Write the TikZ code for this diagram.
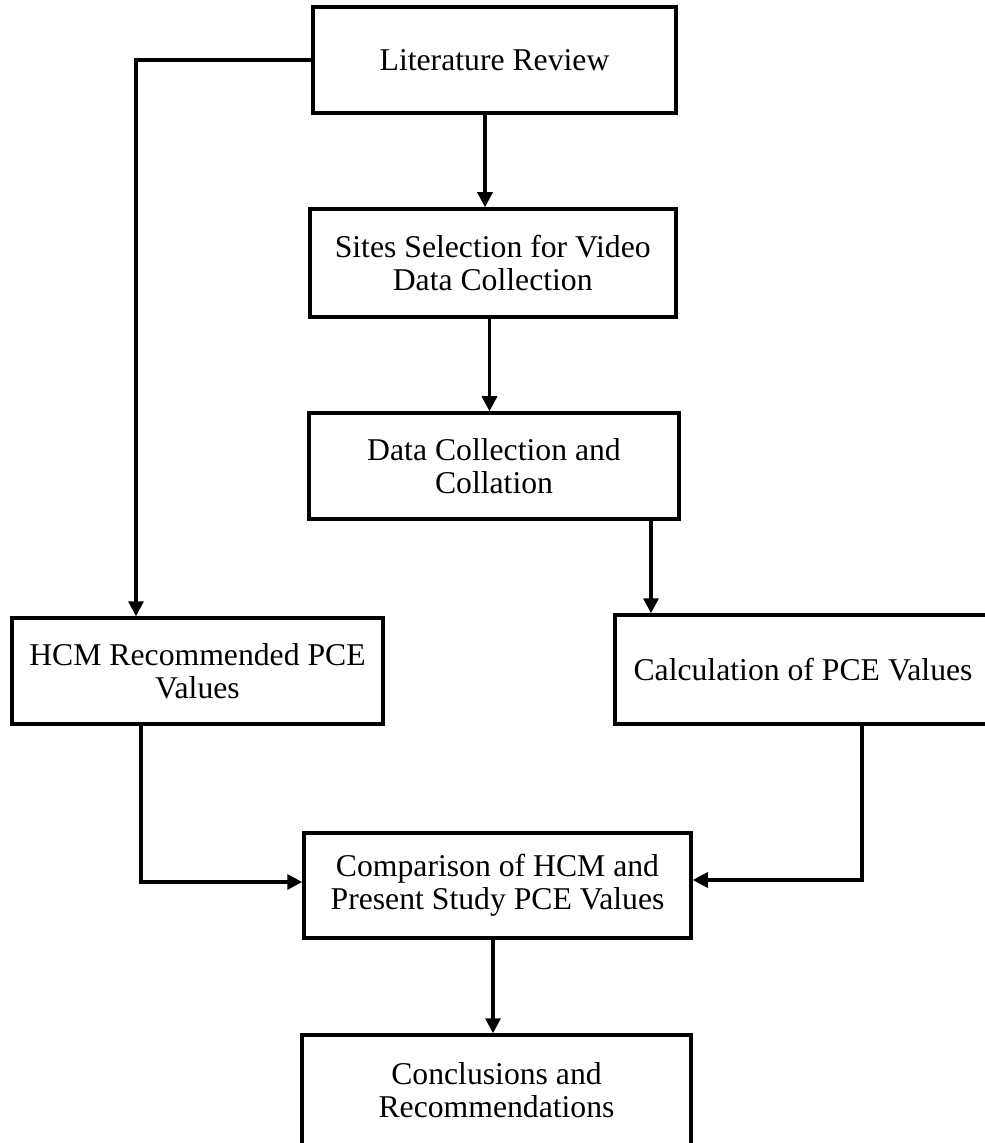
\documentclass[tikz,border=0pt]{standalone}
\usepackage{fontspec}
\setmainfont{Liberation Serif}
\usetikzlibrary{arrows.meta,calc}
\begin{document}
\begin{tikzpicture}[x=0.5pt,y=-0.5pt,
  box/.style={draw,line width=1.75pt,inner sep=0pt,align=center,
    font=\fontsize{15.85pt}{16.5pt}\selectfont},
  conn/.style={line width=1.6pt,-{Triangle[length=7.5pt,width=7.5pt]}}]
\useasboundingbox (0,0) rectangle (984,1143);
\node[box,minimum width=181.5pt,minimum height=53pt] (lit) at (494.5,60) {Literature Review};
\node[box,minimum width=183pt,minimum height=54pt] (sites) at (492.75,263) {Sites Selection for Video\\Data Collection};
\node[box,minimum width=185pt,minimum height=53pt] (data) at (494,466) {Data Collection and\\Collation};
\node[box,minimum width=185.5pt,minimum height=53pt] (hcm) at (197.5,671) {HCM Recommended PCE\\Values};
\node[box,minimum width=188pt,minimum height=54.5pt] (calc) at (803,669.5) {Calculation of PCE Values};
\node[box,minimum width=193.5pt,minimum height=52.5pt] (comp) at (497.5,885.5) {Comparison of HCM and\\Present Study PCE Values};
\node[box,minimum width=194.5pt,minimum height=55.5pt] (concl) at (496.5,1090.5) {Conclusions and\\Recommendations};
\coordinate (c1) at (485,0);
\coordinate (c2) at (489.5,0);
\coordinate (c3) at (651,0);
\coordinate (c4) at (136,60);
\coordinate (c5) at (141,882);
\coordinate (c6) at (862,880);
\coordinate (c7) at (493,0);
\draw[conn] (lit.south -| c1) -- (sites.north -| c1);
\draw[conn] (sites.south -| c2) -- (data.north -| c2);
\draw[conn] (data.south -| c3) -- (calc.north -| c3);
\draw[conn] (lit.west) -- (c4) -- (hcm.north -| c4);
\draw[conn] (hcm.south -| c5) -- (c5) -- (comp.west |- c5);
\draw[conn] (calc.south -| c6) -- (c6) -- (comp.east |- c6);
\draw[conn] (comp.south -| c7) -- (concl.north -| c7);
\end{tikzpicture}
\end{document}
